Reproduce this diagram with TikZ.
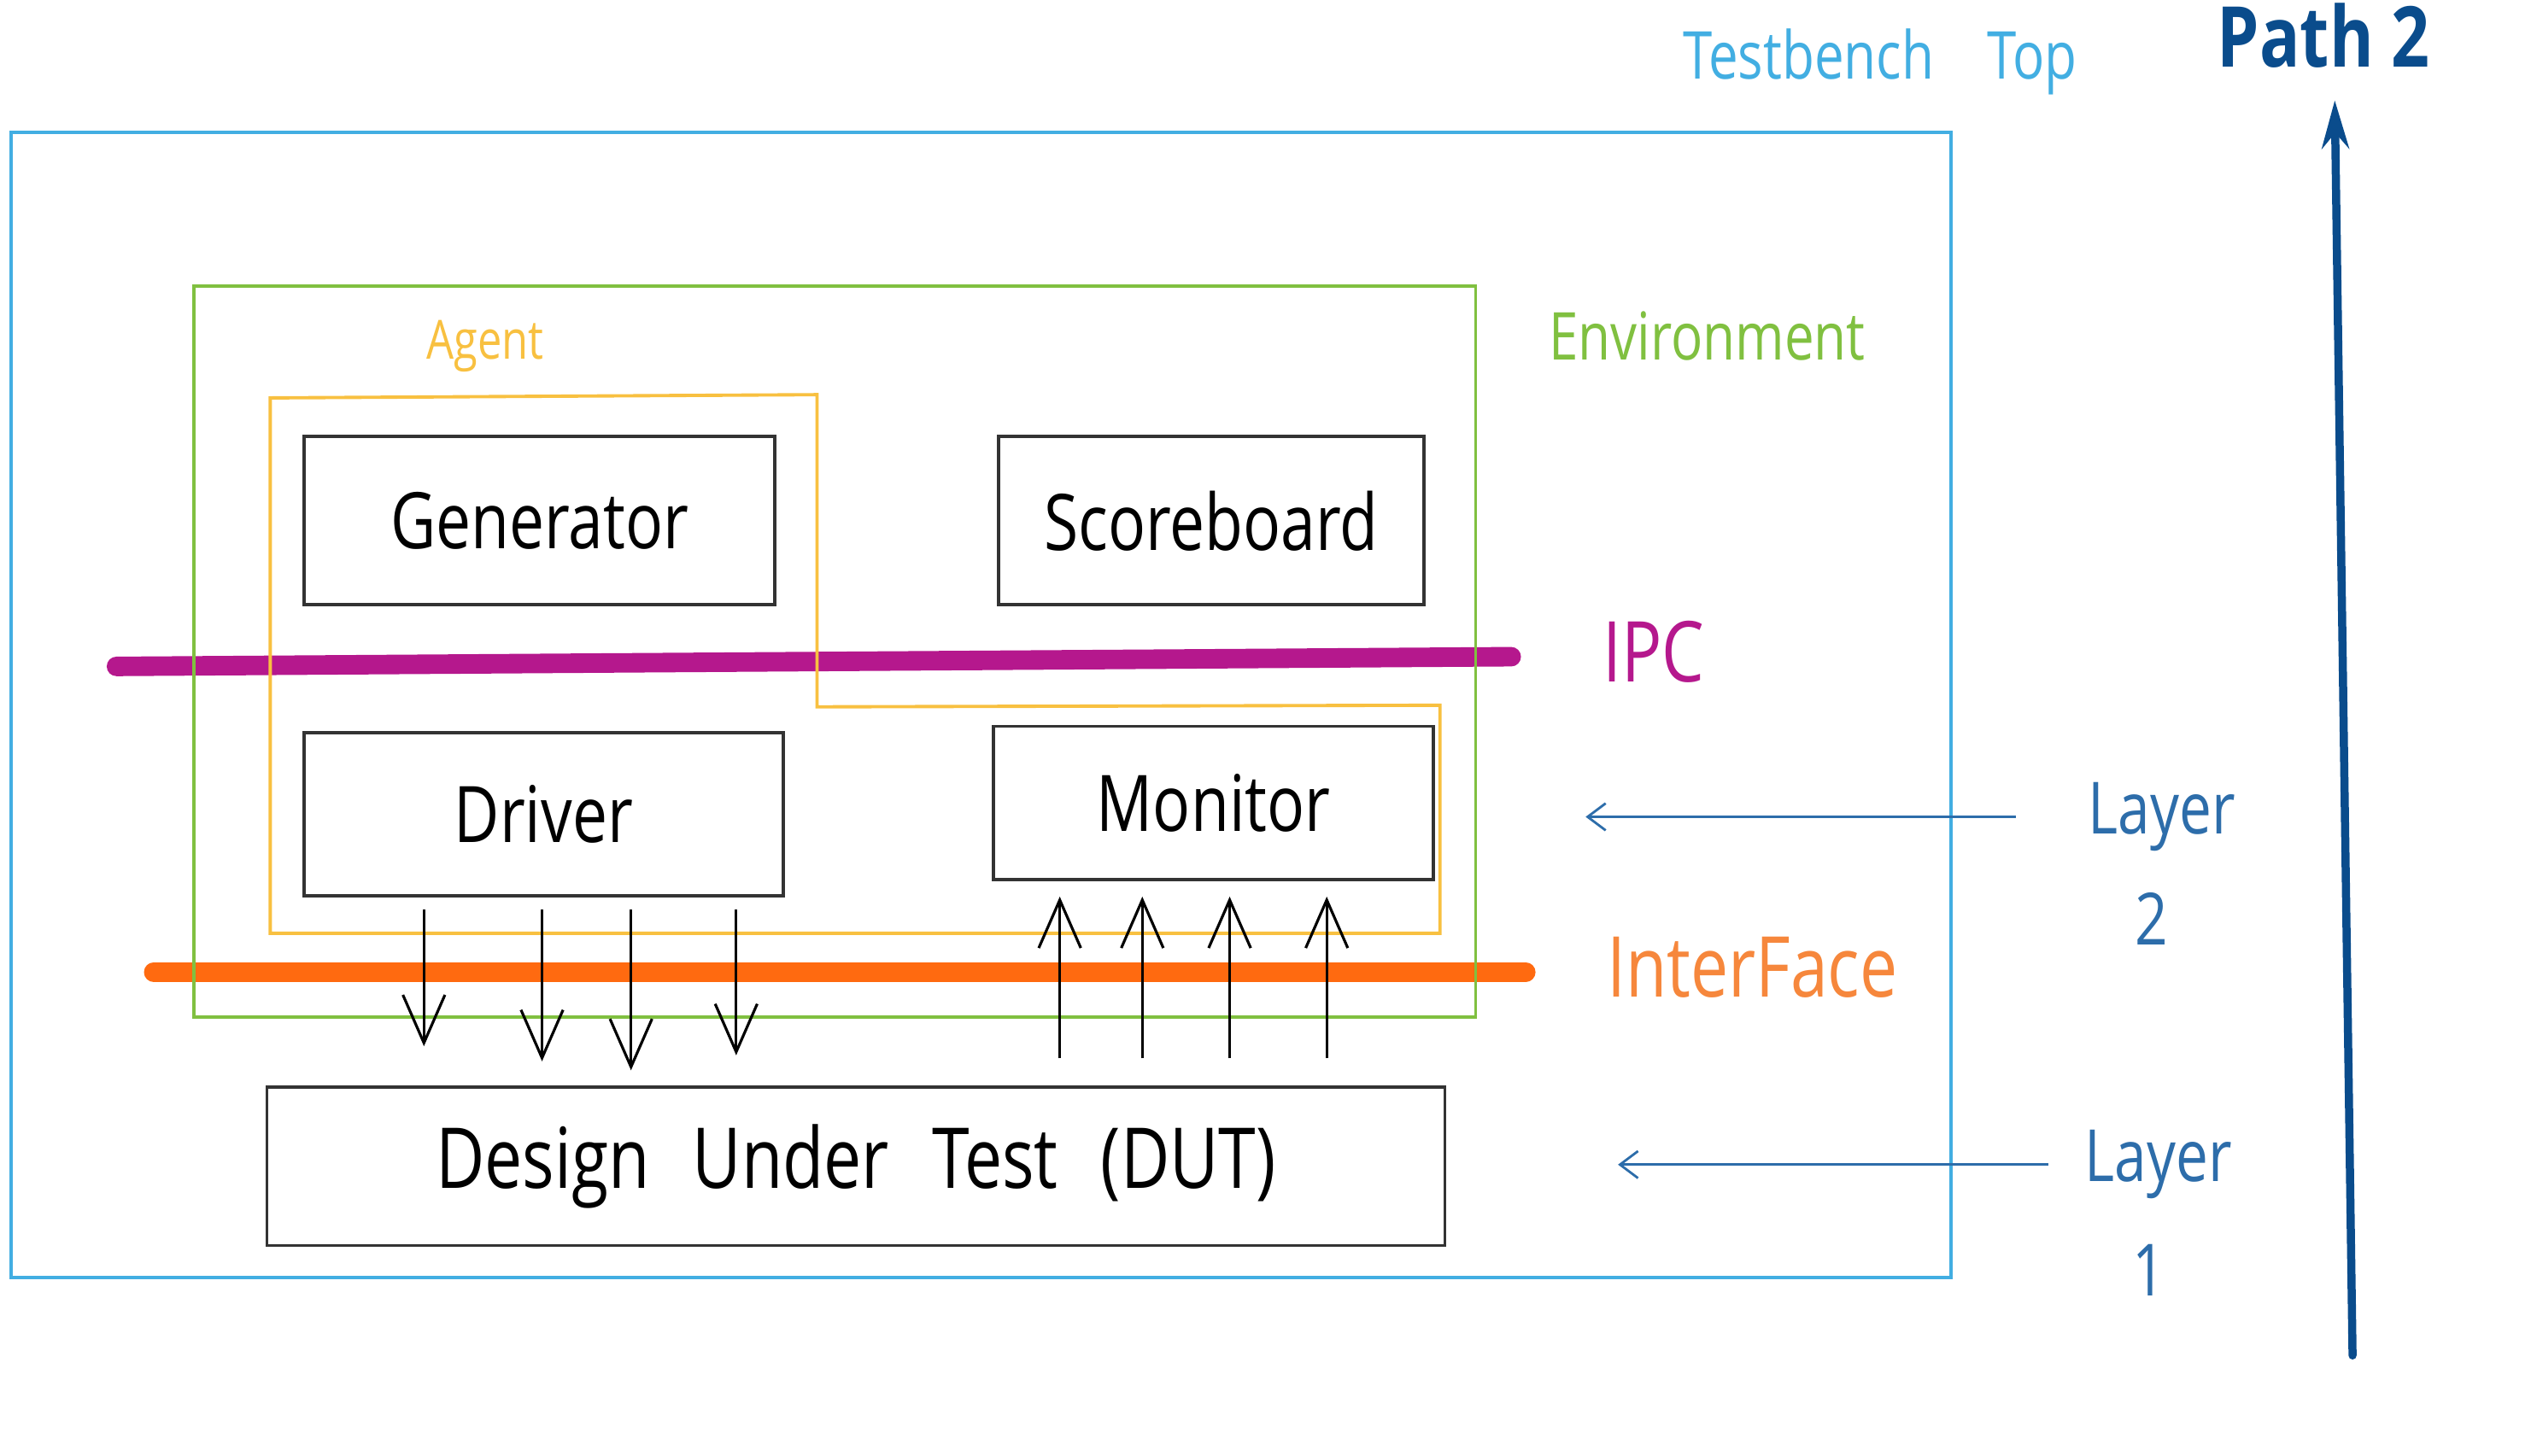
\documentclass[tikz,border=0pt]{standalone}
\usepackage{fontspec}
\newfontfamily\hand[FakeStretch=0.8]{Open Sans}
\usetikzlibrary{arrows.meta}
\definecolor{tbblue}{RGB}{66, 174, 226}
\definecolor{envgreen}{RGB}{128, 192, 64}
\definecolor{agentorange}{RGB}{248, 192, 64}
\definecolor{ipcmag}{RGB}{181, 24, 141}
\definecolor{ifcorange}{RGB}{255, 106, 16}
\definecolor{ifctext}{RGB}{246, 135, 60}
\definecolor{layblue}{RGB}{45, 109, 170}
\definecolor{pathblue}{RGB}{10, 76, 140}
\newlength\pxu
\setlength\pxu{0.01894cm}
\tikzset{
  block/.style 2 args={draw=black!80, line width=1.1pt, minimum width=#1\pxu, minimum height=#2\pxu, font=\hand\fontsize{26}{30}\selectfont},
  lbl/.style={inner sep=1pt, font=\hand\fontsize{24}{28}\selectfont},
  bar/.style={line width=6.5pt, line cap=round},
  sig/.style={line width=0.9pt, -{Straight Barb[length=16pt, width=14pt]}},
  layarrow/.style={layblue, line width=0.8pt, -{Straight Barb[length=6pt, width=9pt]}}
}

\begin{document}
\begin{tikzpicture}[x=0.01894cm, y=-0.01894cm, font=\hand]
  \useasboundingbox (0,0) rectangle (1568,900);

  % Bus lines
  \coordinate (ipcL) at (72,412);
  \coordinate (ipcR) at (934,406);
  \coordinate (ifcL) at (95,601);
  \coordinate (ifcR) at (943,601);
  \draw[bar, ipcmag] (ipcL) -- (ipcR);
  \draw[bar, ifcorange] (ifcL) -- (ifcR);

  % Containers
  \draw[tbblue, line width=1.2pt] (7,82) rectangle (1206,790);
  \draw[envgreen, line width=1.1pt] (120,177) rectangle (912,629);
  \draw[agentorange, line width=1.1pt] (167,246) -- (505,244) -- (505,437) -- (890,436) -- (890,577) -- (167,577) -- cycle;

  % Components
  \node[block={291}{104}] (gen) at (333.5,322) {Generator};
  \node[block={263}{104}] (score) at (748.5,322) {Scoreboard};
  \node[block={296}{101}] (drv) at (336,503.5) {Driver};
  \node[block={272}{95}] (mon) at (750,496.5) {Monitor};
  \node[block={728}{98}, font=\hand\fontsize{28}{32}\selectfont] (dut) at (529,721) {Design\hspace{0.3em} Under\hspace{0.3em} Test\hspace{0.3em} (DUT)};

  % Driver -> DUT
  \foreach \x/\s in {262/13, 335/8, 390/5, 455/10} {
    \coordinate (dx) at (\x,0);
    \draw[sig, shorten <=4pt, shorten >=\s pt] (drv.south -| dx) -- (dut.north -| dx);
  }
  % DUT -> Monitor
  \foreach \x in {655, 706, 760, 820} {
    \coordinate (ux) at (\x,0);
    \draw[sig, shorten <=9pt, shorten >=5pt] (dut.north -| ux) -- (mon.south -| ux);
  }

  % Labels
  \node[lbl, text=agentorange, font=\hand\fontsize{18}{22}\selectfont] (agent) at (300,214) {Agent};
  \node[lbl, text=envgreen, font=\hand\fontsize{22}{26}\selectfont] (env) at (1055,208) {Environment};
  \node[lbl, text=ipcmag, font=\hand\fontsize{28}{32}\selectfont] (ipc) at (1022,403) {IPC};
  \node[lbl, text=ifctext, font=\hand\fontsize{28}{32}\selectfont] (ifc) at (1083,598) {InterFace};
  \node[lbl, text=tbblue, font=\hand\fontsize{22}{26}\selectfont] (tbtop) at (1162,38) {Testbench\hspace{0.6em} Top};

  % Layers
  \node[lbl, text=layblue] (lay2) at (1336,505) {Layer};
  \node[lbl, text=layblue] (lay2n) at (1330,568) {2};
  \node[lbl, text=layblue] (lay1) at (1334,720) {Layer};
  \node[lbl, text=layblue] (lay1n) at (1328,785) {1};
  \coordinate (l2end) at (980,505);
  \coordinate (l1end) at (1000,720);
  \draw[layarrow, shorten <=23pt] (lay2.west) -- (lay2.west -| l2end);
  \draw[layarrow, shorten <=11pt] (lay1.west) -- (lay1.west -| l1end);

  % Path
  \node[lbl, text=pathblue, font=\hand\bfseries\fontsize{28}{32}\selectfont] (path) at (1436,22) {Path 2};
  \coordinate (pbot) at (1454,838);
  \coordinate (ptop) at (1443,62);
  \draw[pathblue, line width=2.7pt, line cap=round, -{Stealth[length=16pt, width=9pt]}] (pbot) -- (ptop);
\end{tikzpicture}
\end{document}
